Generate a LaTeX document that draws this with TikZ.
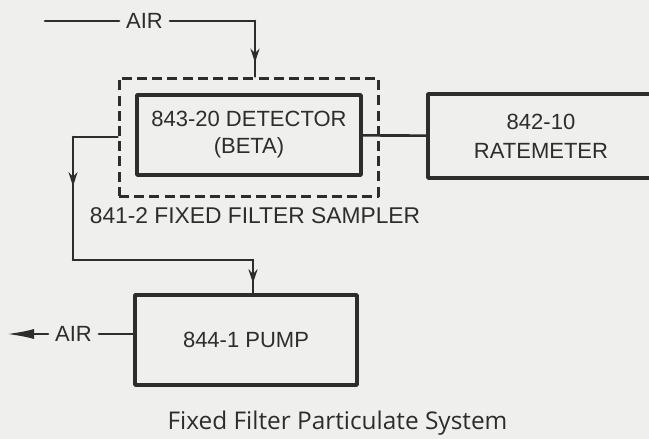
\documentclass[tikz,border=0pt]{standalone}
\usepackage{fontspec}
\setmainfont{Liberation Sans}
\newfontfamily\capfont{Open Sans}
\usetikzlibrary{arrows.meta,decorations.markings}
\definecolor{ink}{RGB}{45,45,45}
\definecolor{paper}{RGB}{239,239,238}

\begin{document}
\begin{tikzpicture}[x=0.5pt,y=-0.5pt,>={Stealth[length=7pt,width=4.5pt]}, font=\fontsize{11}{13.5}\selectfont, line join=round, line cap=round, color=ink,
	unit/.style={draw,line width=1.7pt,align=center,inner sep=0pt},
	shell/.style={draw,line width=1.5pt,line cap=butt,dash pattern=on 5pt off 2.6pt},
	pipe/.style={line width=1.3pt},
	flow/.style={pipe,postaction={decorate},decoration={markings,mark=at position #1 with {\arrow{>}}}}]
	\useasboundingbox[fill=paper] (0,0) rectangle (649,439); % khung 649x439
	\clip (0,0) rectangle (649,439);
	\node[shell,minimum width=129.5pt,minimum height=59pt] (samp) at (248.5,137) {};
	\node[unit,minimum width=112pt,minimum height=40pt] (det) at (249,135) {843-20 DETECTOR\\(BETA)};
	\node[unit,minimum width=113pt,minimum height=42pt,font=\fontsize{11}{14.5}\selectfont] (rate) at (541,136) {842-10\\RATEMETER};
	\node[unit,minimum width=111pt,minimum height=45pt] (pump) at (246,340) {844-1 PUMP};
	\node[font=\fontsize{11.4}{13}\selectfont] (samplbl) at (255,216) {841-2 FIXED FILTER SAMPLER};
	\node (airtop) at (144.5,21) {AIR};
	\node (airbot) at (73.5,334) {AIR};
	\node[anchor=base,font=\capfont\fontsize{12.2}{14}\selectfont] (cap) at (337.5,429) {Fixed Filter Particulate System};
	\coordinate (ain) at (45,21);
	\coordinate (abend) at (255,21);
	\coordinate (la) at (73,137);
	\coordinate (lb) at (73,260);
	\coordinate (lc) at (253,260);
	\coordinate (aout) at (6,334);
	\draw[pipe] (ain) -- (airtop);
	\draw[pipe] (airtop) -- (abend);
	\draw[flow=0.75] (abend) -- (abend |- samp.north);
	\draw[pipe] (det) -- (rate);
	\draw[pipe] (samp.west) -- (la);
	\draw[flow=0.4] (la) -- (lb);
	\draw[pipe] (lb) -- (lc);
	\draw[flow=0.7] (lc) -- (lc |- pump.north);
	\draw[pipe] (airbot) -- (airbot -| pump.west);
	\draw[pipe,-{Latex[length=14pt,width=5pt]}] (airbot) -- (aout);
\end{tikzpicture}
\end{document}
